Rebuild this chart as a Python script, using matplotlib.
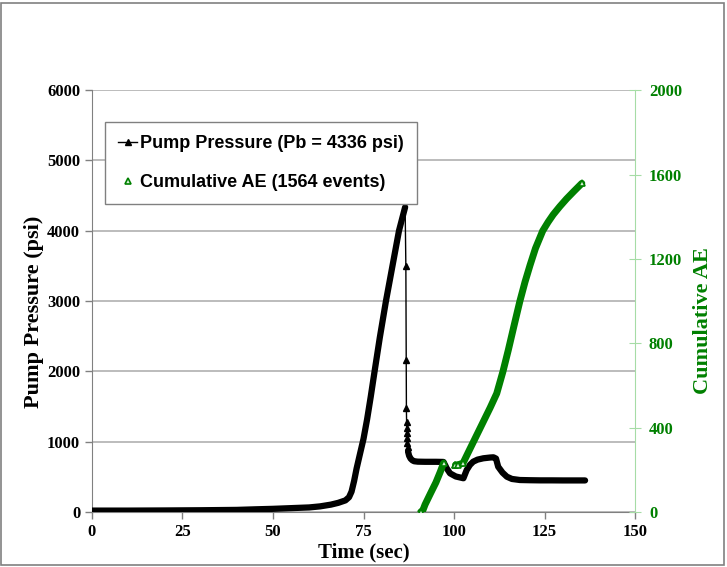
"""Pump pressure and cumulative AE events against time for a breakdown test."""
import numpy as np
import matplotlib
matplotlib.use("Agg")
import matplotlib.pyplot as plt
from matplotlib.lines import Line2D
from matplotlib.patches import Rectangle

# pump pressure (psi): build-up to breakdown
rise_t = [0, 10, 20, 30, 40, 45, 50, 55, 60, 63, 66, 68, 70, 71, 71.7, 72.4,
          73.1, 74.0, 75.0, 76.0, 77.0, 78.0, 79.5, 81.2, 83.0, 84.8, 86.5]
rise_p = [20, 20, 22, 25, 30, 38, 45, 55, 65, 80, 105, 130, 165, 210, 290, 440,
          620, 820, 1040, 1320, 1640, 1980, 2480, 3000, 3500, 4000, 4336]
# sudden drop right after breakdown (sparse readings)
drop_t = [86.7, 86.8, 86.85, 86.9, 86.95, 87.0, 87.05, 87.1, 87.2]
drop_p = [3500, 2160, 1475, 1285, 1190, 1120, 1050, 980, 920]
# post-breakdown pumping
post_t = [87.3, 87.6, 88.0, 88.5, 89.0, 90.0, 92.0, 95.0, 97.1, 98.0, 98.9,
          100.5, 102.6, 103.5, 104.4, 105.3, 106.5, 108.1, 110.0, 110.9, 111.6,
          112.2, 113.4, 114.6, 116.0, 118.2, 121.0, 123.8, 127.0, 130.0, 133.0, 136.2]
post_p = [860, 800, 760, 735, 722, 716, 714, 714, 712, 620, 550, 505, 480, 597,
          670, 716, 745, 764, 775, 778, 760, 644, 560, 502, 470, 455, 452, 450,
          450, 449, 449, 449]

# cumulative AE events
ae1_t = [90.8, 91.4, 92.0, 93.5, 95.0, 96.2, 97.1]
ae1_n = [0, 8, 35, 88, 140, 190, 231]
ae2_t = [100.4, 101.2, 102.5, 104.0, 106.0, 108.0, 110.0, 111.8, 113.5, 115.0,
         116.6, 118.2, 119.6, 121.0, 122.5, 124.5, 126.0, 127.4, 129.2, 131.1,
         133.2, 135.3]
ae2_n = [223, 224, 232, 285, 355, 425, 495, 562, 665, 768, 885, 1000, 1090, 1170,
         1250, 1333, 1375, 1410, 1448, 1485, 1522, 1558]

GREEN = "#008000"
SERIF = "Liberation Serif"
SANS = "Liberation Sans"

fig = plt.figure(figsize=(7.27, 5.67), dpi=100)
ax = fig.add_axes([0.1265, 0.097, 0.747, 0.744])

# pressure: thin connecting line with markers, dense parts drawn as a thick trace
all_t = rise_t + drop_t + post_t
all_p = rise_p + drop_p + post_p
ax.plot(all_t, all_p, color="black", lw=1, zorder=3)
ax.plot(rise_t, rise_p, color="black", lw=4.5, solid_capstyle="round", zorder=3)
ax.plot(post_t, post_p, color="black", lw=4.5, solid_capstyle="round", zorder=3)
ax.plot(drop_t, drop_p, ls="none", marker="^", ms=4, color="black", zorder=3)

ax.set_xlim(0, 150)
ax.set_ylim(0, 6000)
ax.set_xticks(np.arange(0, 151, 25))
ax.set_yticks(np.arange(0, 6001, 1000))
ax.yaxis.grid(True, color="#b0b0b0", lw=1.2)
ax.set_axisbelow(True)
for s in ("top", "right"):
    ax.spines[s].set_visible(False)
for s in ("left", "bottom"):
    ax.spines[s].set_color("#808080")
ax.tick_params(colors="#808080", length=5, width=1, labelcolor="black")
for lab in ax.get_xticklabels() + ax.get_yticklabels():
    lab.set_fontfamily(SERIF)
    lab.set_fontweight("bold")
    lab.set_fontsize(12)
ax.set_xlabel("Time (sec)", fontfamily=SERIF, fontweight="bold", fontsize=15,
              labelpad=2)
ax.set_ylabel("Pump Pressure (psi)", fontfamily=SERIF, fontweight="bold",
              fontsize=16)
ax.yaxis.set_label_coords(-0.089, 0.474)

ax2 = ax.twinx()
for tt, nn in ((ae1_t, ae1_n), (ae2_t, ae2_n)):
    ax2.plot(tt, nn, color=GREEN, lw=5, solid_capstyle="round", zorder=3)
    ax2.plot(tt, nn, ls="none", marker="^", ms=5, mfc="#d8f2d8", mec=GREEN,
             mew=1.2, markevery=[0, len(tt) - 1], zorder=4)
ax2.plot(ae2_t[:3], ae2_n[:3], ls="none", marker="^", ms=5, mfc="#d8f2d8",
         mec=GREEN, mew=1.2, zorder=4)
ax2.set_ylim(0, 2000)
ax2.set_yticks(np.arange(0, 2001, 400))
for s in ("top", "left", "bottom"):
    ax2.spines[s].set_visible(False)
ax2.spines["right"].set_color("#a6dca6")
ax2.tick_params(axis="y", colors="#a6dca6", direction="inout", length=8,
                labelcolor=GREEN, pad=6)
for lab in ax2.get_yticklabels():
    lab.set_fontfamily(SERIF)
    lab.set_fontweight("bold")
    lab.set_fontsize(12)
ax2.set_ylabel("Cumulative AE", fontfamily=SERIF, fontweight="bold",
               fontsize=16, color=GREEN)
ax2.yaxis.set_label_coords(1.107, 0.453)

handles = [
    Line2D([], [], color="black", lw=1, marker="^", ms=4),
    Line2D([], [], ls="none", marker="^", ms=5, mfc="#d8f2d8", mec=GREEN, mew=1.2),
]
leg = ax2.legend(handles, ["Pump Pressure (Pb = 4336 psi)",
                           "Cumulative AE (1564 events)"],
                 loc="upper left", bbox_to_anchor=(0.024, 0.924),
                 prop={"family": SANS, "weight": "bold", "size": 13},
                 fancybox=False, framealpha=1, edgecolor="#808080",
                 handlelength=1.1, handletextpad=0.15, labelspacing=1.25,
                 borderpad=0.7, borderaxespad=0)
leg.get_frame().set_linewidth(1)
leg.set_zorder(10)

fig.patches.append(Rectangle((0.002, 0.004), 0.994, 0.991, transform=fig.transFigure,
                             fill=False, edgecolor="#808080", lw=1.2))

fig.savefig("out.png", dpi=100)
